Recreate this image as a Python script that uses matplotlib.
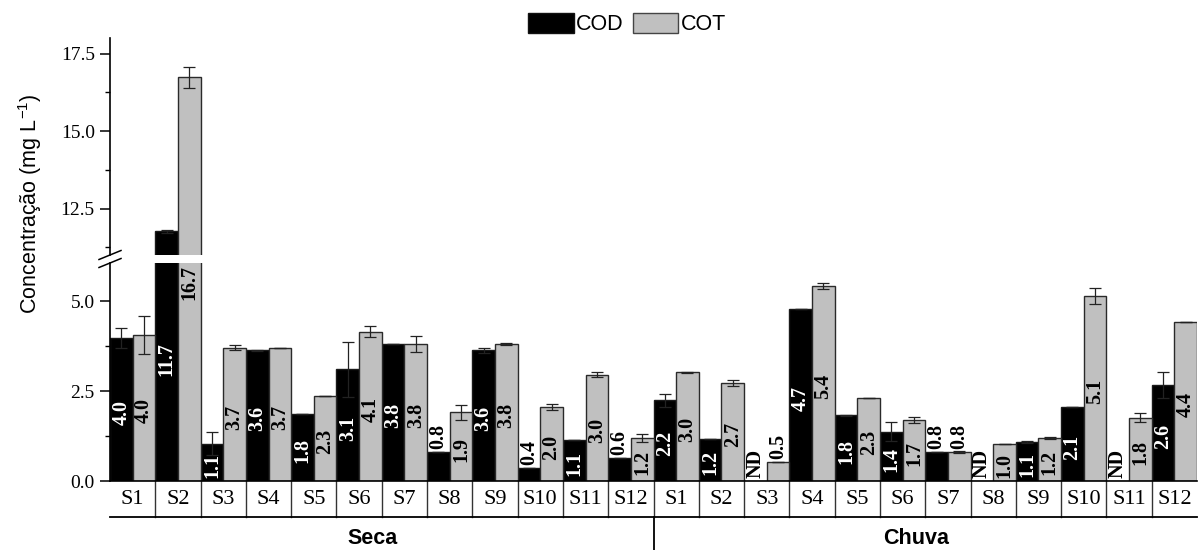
import matplotlib
matplotlib.use("Agg")
import matplotlib.pyplot as plt
from matplotlib.patches import Patch
from matplotlib.lines import Line2D
from matplotlib.ticker import MultipleLocator, FormatStrFormatter
import matplotlib.transforms as mtransforms

# ---------------- data ----------------
sites = ['S1', 'S2', 'S3', 'S4', 'S5', 'S6', 'S7', 'S8', 'S9', 'S10', 'S11', 'S12']
seasons = ['Seca', 'Chuva']

cod_seca = [3.98, 11.76, 1.04, 3.63, 1.85, 3.10, 3.81, 0.82, 3.64, 0.35, 1.13, 0.64]
cot_seca = [4.07, 16.73, 3.71, 3.70, 2.36, 4.15, 3.81, 1.91, 3.81, 2.06, 2.96, 1.20]
cod_chuva = [2.24, 1.18, 0.0, 4.78, 1.83, 1.37, 0.81, 0.0, 1.09, 2.06, 0.0, 2.67]
cot_chuva = [3.02, 2.73, 0.52, 5.42, 2.31, 1.69, 0.81, 1.04, 1.19, 5.14, 1.76, 4.41]

cod_seca_err = [0.28, 0.05, 0.32, 0.02, 0.0, 0.77, 0.0, 0.0, 0.07, 0.0, 0.0, 0.0]
cot_seca_err = [0.53, 0.35, 0.08, 0.0, 0.0, 0.16, 0.22, 0.21, 0.02, 0.08, 0.06, 0.12]
cod_chuva_err = [0.18, 0.0, 0.0, 0.0, 0.01, 0.26, 0.0, 0.0, 0.02, 0.0, 0.0, 0.35]
cot_chuva_err = [0.02, 0.09, 0.0, 0.08, 0.01, 0.08, 0.02, 0.0, 0.03, 0.22, 0.13, 0.0]

cod_seca_lbl = ['4.0', '11.7', '1.1', '3.6', '1.8', '3.1', '3.8', '0.8', '3.6', '0.4', '1.1', '0.6']
cot_seca_lbl = ['4.0', '16.7', '3.7', '3.7', '2.3', '4.1', '3.8', '1.9', '3.8', '2.0', '3.0', '1.2']
cod_chuva_lbl = ['2.2', '1.2', 'ND', '4.7', '1.8', '1.4', '0.8', 'ND', '1.1', '2.1', 'ND', '2.6']
cot_chuva_lbl = ['3.0', '2.7', '0.5', '5.4', '2.3', '1.7', '0.8', '1.0', '1.2', '5.1', '1.8', '4.4']

series_names = ['COD', 'COT']
colors = ['#000000', '#c0c0c0']

# ---------------- style ----------------
plt.rcParams['font.family'] = ['Liberation Sans', 'DejaVu Sans']
plt.rcParams['mathtext.fontset'] = 'custom'
plt.rcParams['mathtext.rm'] = 'Liberation Sans'
SERIF = ['Liberation Serif', 'DejaVu Serif']

W, H = 1202, 550
fig = plt.figure(figsize=(W / 100, H / 100), dpi=100)


def fx(x):
    return x / W


def fy(y):
    return 1 - y / H


L, R = fx(110), fx(1197)
ax_lo = fig.add_axes([L, fy(481), R - L, fy(263) - fy(481)])
ax_hi = fig.add_axes([L, fy(255), R - L, fy(38) - fy(255)])

n = len(sites) * len(seasons)
cod_all = cod_seca + cod_chuva
cot_all = cot_seca + cot_chuva
cod_err = cod_seca_err + cod_chuva_err
cot_err = cot_seca_err + cot_chuva_err
cod_lbl = cod_seca_lbl + cod_chuva_lbl
cot_lbl = cot_seca_lbl + cot_chuva_lbl

x_cod = [g + 0.25 for g in range(n)]
x_cot = [g + 0.75 for g in range(n)]

for ax in (ax_lo, ax_hi):
    ax.bar(x_cod, cod_all, width=0.5, color=colors[0], edgecolor='#1a1a1a', linewidth=1.0, zorder=2)
    ax.bar(x_cot, cot_all, width=0.5, color=colors[1], edgecolor='#2a2a2a', linewidth=1.0, zorder=2)
    for xs, vs, es, ls in ((x_cod, cod_all, cod_err, cod_lbl), (x_cot, cot_all, cot_err, cot_lbl)):
        xe = [x for x, l in zip(xs, ls) if l != 'ND']
        ve = [v for v, l in zip(vs, ls) if l != 'ND']
        ee = [e for e, l in zip(es, ls) if l != 'ND']
        ax.errorbar(xe, ve, yerr=ee, fmt='none', ecolor='#222222', elinewidth=0.9,
                    capsize=4.5, capthick=0.9, zorder=3)
    ax.set_xlim(0, n)
    for s in ('top', 'right'):
        ax.spines[s].set_visible(False)
    ax.spines['left'].set_linewidth(1.2)
    ax.set_xticks([])
    ax.yaxis.set_major_locator(MultipleLocator(2.5))
    ax.yaxis.set_minor_locator(MultipleLocator(1.25))
    ax.yaxis.set_major_formatter(FormatStrFormatter('%.1f'))
    ax.tick_params(axis='y', which='major', direction='out', length=7, width=1.1, pad=4)
    ax.tick_params(axis='y', which='minor', direction='out', length=3.5, width=1.0)
    for t in ax.get_yticklabels():
        t.set_fontfamily(SERIF)
        t.set_fontsize(14)

ax_lo.set_ylim(0, 6.06)
ax_hi.set_ylim(11.0, 18.0)
ax_hi.spines['bottom'].set_visible(False)
ax_lo.spines['bottom'].set_linewidth(1.2)
ax_hi.patch.set_alpha(0)
ax_lo.patch.set_alpha(0)

# ---------------- bar value labels ----------------
fig.canvas.draw()
y_lo_max = ax_lo.get_ylim()[1]
inside_off = mtransforms.offset_copy(ax_lo.transData, fig=fig, x=0, y=-3, units='dots')
above_off = mtransforms.offset_copy(ax_lo.transData, fig=fig, x=0, y=3, units='dots')
base_px = ax_lo.transData.transform((0, 0))[1]

for xs, vs, ls, col in ((x_cod, cod_all, cod_lbl, 'white'), (x_cot, cot_all, cot_lbl, 'black')):
    for x, v, l in zip(xs, vs, ls):
        if l == 'ND' or v < 0.9:
            ax_lo.text(x, v, l, rotation=90, ha='center', va='bottom', color='black',
                       fontfamily=SERIF, fontweight='bold', fontsize=14.5,
                       transform=above_off, clip_on=False, zorder=5)
        else:
            top_ax = ax_lo if v <= y_lo_max else ax_hi
            top_px = top_ax.transData.transform((0, v))[1]
            mid = ax_lo.transData.inverted().transform((0, (top_px + base_px) / 2))[1]
            ax_lo.text(x, mid, l, rotation=90, ha='center', va='center', color=col,
                       fontfamily=SERIF, fontweight='bold', fontsize=14.5,
                       transform=inside_off, clip_on=False, zorder=5)

# ---------------- category rows ----------------
lo_h = 481 - 263
row_bot = -(517 - 481) / lo_h
fig_bot = -(550 - 481) / lo_h
tr = ax_lo.get_xaxis_transform()
for k in range(1, n):
    ax_lo.plot([k, k], [0, row_bot], transform=tr, color='#333333', lw=1.0, clip_on=False)
ax_lo.plot([0, n], [row_bot, row_bot], transform=tr, color='black', lw=1.3, clip_on=False)
ax_lo.plot([len(sites), len(sites)], [row_bot, fig_bot], transform=tr, color='black', lw=1.3, clip_on=False)

for g in range(n):
    ax_lo.text(g + 0.5, -(499 - 481) / lo_h, sites[g % len(sites)], transform=tr,
               ha='center', va='center', fontfamily=SERIF, fontsize=16)
for i, s in enumerate(seasons):
    ax_lo.text(len(sites) * i + len(sites) / 2 - 0.2, -(544 - 481) / lo_h, s, transform=tr,
               ha='center', va='baseline', fontweight='bold', fontsize=15.5)

# ---------------- axis break marks ----------------
for yc in (255, 263):
    fig.add_artist(Line2D([fx(99), fx(121)], [fy(yc + 4.5), fy(yc - 4.5)],
                          transform=fig.transFigure, color='black', lw=1.1))

# ---------------- y label ----------------
fig.text(fx(30), fy(204), r'Concentração (mg L$^{\mathrm{-1}}$)', rotation=90,
         ha='center', va='center', fontsize=15.5)

# ---------------- legend ----------------
handles = [Patch(facecolor=colors[0], edgecolor='#111111', linewidth=1.0),
           Patch(facecolor=colors[1], edgecolor='#444444', linewidth=1.0)]
fig.legend(handles, series_names, loc='center', bbox_to_anchor=(fx(627), fy(24)),
           ncol=2, frameon=False, fontsize=15.5, handlelength=2.1, handleheight=1.1,
           handletextpad=0.1, columnspacing=0.45, borderpad=0, borderaxespad=0)

fig.savefig('out.png', dpi=100)
